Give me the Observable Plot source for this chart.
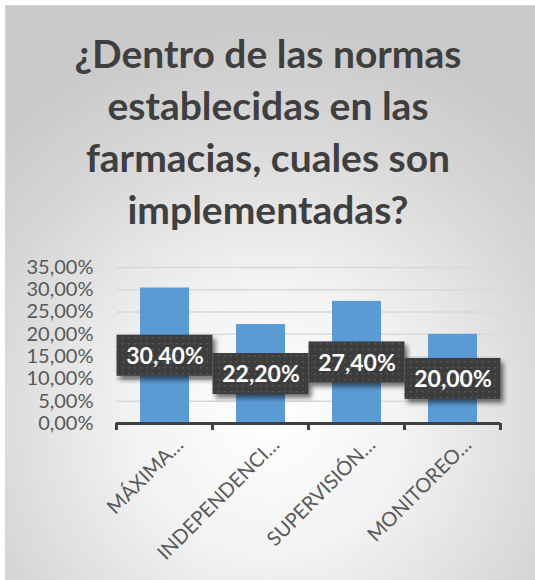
<!DOCTYPE html>
<html><head><meta charset="utf-8">
<script src="https://cdn.jsdelivr.net/npm/d3@7"></script>
<script src="https://cdn.jsdelivr.net/npm/@observablehq/plot@0.6"></script>
<style>
html,body{margin:0;padding:0;background:#fff;}
#frame{position:absolute;left:5px;top:5px;width:529px;height:574px;border-left:1px solid #d4d4d4;border-top:1px solid #d4d4d4;
background:radial-gradient(ellipse 75% 70% at 50% 72%, #ffffff 0%, #f2f2f2 35%, #d6d6d6 75%, #c9c9c9 100%);overflow:hidden;}
#title{position:absolute;left:0;top:21px;width:524px;text-align:center;font-family:Lato,"Open Sans",sans-serif;font-weight:bold;
font-size:39px;line-height:52px;color:#3f3f3f;}
#chart{position:absolute;left:-6px;top:239px;}
</style></head>
<body>
<div id="frame">
<div id="title">¿Dentro de las normas<br>establecidas en las<br>farmacias, cuales son<br>implementadas?</div>
<div id="chart"></div>
</div>
<script>
const categories = ["MÁXIMA…", "INDEPENDENCI…", "SUPERVISIÓN…", "MONITOREO…"];
const values = [30.4, 22.2, 27.4, 20.0];
const yTicks = [0, 5, 10, 15, 20, 25, 30, 35];

const data = categories.map((c, i) => ({cat: c, v: values[i]}));
const fmt = v => v.toFixed(2).replace(".", ",") + "%";
const halfBox = 4.6;
const ns = "http://www.w3.org/2000/svg";

const chart = Plot.plot({
  width: 535,
  height: 335,
  marginTop: 22,
  marginLeft: 116,
  marginRight: 35,
  marginBottom: 157,
  style: {background: "transparent", fontFamily: "Lato, 'Open Sans', sans-serif"},
  x: {domain: categories, paddingInner: 0.49, paddingOuter: 0.245, label: null},
  y: {domain: [0, 35], ticks: yTicks, label: null, tickFormat: fmt},
  marks: [
    Plot.ruleY(yTicks.filter(t => t > 0), {stroke: "#d9d9d9", strokeWidth: 1.5}),
    Plot.axisY({ticks: yTicks, tickFormat: fmt, tickSize: 0, tickPadding: 23, fontSize: 20, fill: "#595959", label: null}),
    Plot.axisX({tickSize: 0, tickRotate: -45, fontSize: 20, fill: "#595959", label: null, tickPadding: 0, dx: 15, dy: 18}),
    Plot.barY(data, {x: "cat", y: "v", fill: "#5b9bd5"}),
    Plot.barY(data, {x: "cat", y1: d => d.v / 2 - halfBox, y2: d => d.v / 2 + halfBox,
      fill: "url(#dots)", insetLeft: -23.5, insetRight: -23.5,
      render: (index, scales, values, dims, context, next) => {
        const g = next(index, scales, values, dims, context);
        g.setAttribute("filter", "url(#shadow)");
        return g;
      }}),
    Plot.text(data, {x: "cat", y: d => d.v / 2, text: d => fmt(d.v),
      fill: "white", fontWeight: "bold", fontSize: 23, dy: 1}),
    Plot.ruleY([0], {stroke: "#404040", strokeWidth: 3}),
    // boundary ticks on the category axis, placed through the x scale
    Plot.tickX(categories, {
      render: (index, scales, values, dims) => {
        const x = scales.x;
        const bw = x.bandwidth();
        const off = (x.step() - bw) / 2;
        const g = document.createElementNS(ns, "g");
        const y0 = dims.height - dims.marginBottom;
        const edges = categories.map(c => x(c) - off);
        edges.push(x(categories[categories.length - 1]) + bw + off);
        for (const e of edges) {
          const l = document.createElementNS(ns, "line");
          l.setAttribute("x1", e); l.setAttribute("x2", e);
          l.setAttribute("y1", y0); l.setAttribute("y2", y0 + 7);
          l.setAttribute("stroke", "#404040"); l.setAttribute("stroke-width", 3);
          g.appendChild(l);
        }
        return g;
      }
    })
  ]
});

const defs = document.createElementNS(ns, "defs");
defs.innerHTML = `
<pattern id="dots" width="6" height="6" patternUnits="userSpaceOnUse">
  <rect width="6" height="6" fill="#3d3d3d"/>
  <rect x="2" y="2" width="1.5" height="1.5" fill="#5c5c5c"/>
</pattern>
<filter id="shadow" x="-20%" y="-30%" width="150%" height="170%">
  <feGaussianBlur in="SourceAlpha" stdDeviation="2.5"/>
  <feOffset dx="3" dy="4" result="b"/>
  <feComponentTransfer><feFuncA type="linear" slope="0.55"/></feComponentTransfer>
  <feMerge><feMergeNode/><feMergeNode in="SourceGraphic"/></feMerge>
</filter>`;
chart.insertBefore(defs, chart.firstChild);
document.getElementById("chart").appendChild(chart);
</script>
</body></html>
